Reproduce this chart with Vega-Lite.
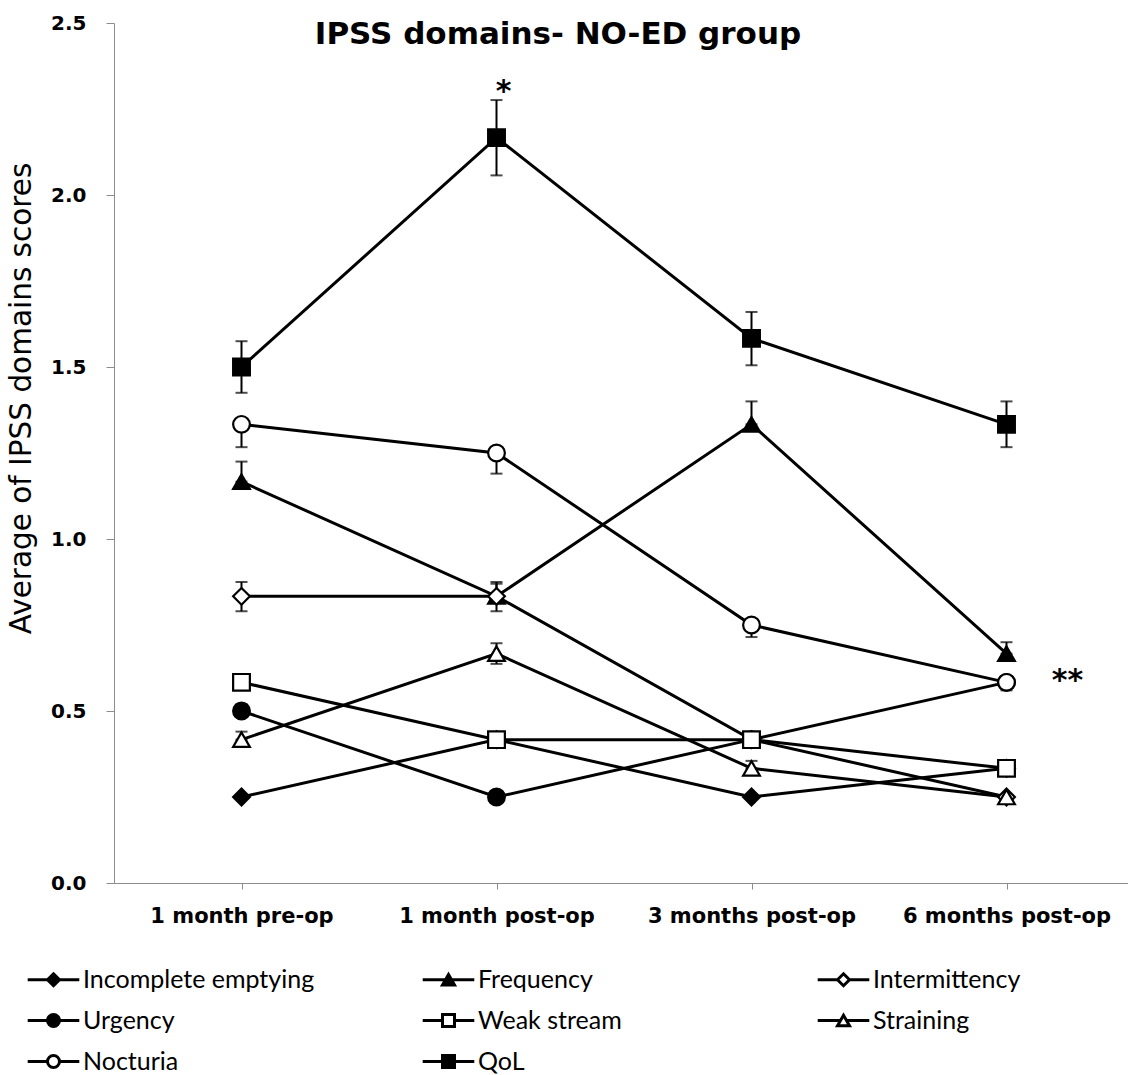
{
  "$schema": "https://vega.github.io/schema/vega-lite/v6.json",
  "autosize": {"type": "none"},
  "padding": {"left": 114, "top": 23, "right": -6, "bottom": 192},
  "width": 1020,
  "height": 860,
  "background": "white",
  "title": {"text": "IPSS domains- NO-ED group", "font": "DejaVu Sans", "fontSize": 31, "fontWeight": "bold", "color": "black", "anchor": "middle", "dx": -66, "offset": -38},
  "config": {
    "view": {"stroke": null},
    "font": "DejaVu Sans",
    "axis": {"grid": false, "domainColor": "#8c8c8c", "tickColor": "#8c8c8c", "labelColor": "black", "titleColor": "black", "labelFont": "DejaVu Sans", "titleFont": "DejaVu Sans"}
  },
  "datasets": {
    "scores": [
      {"series": "Incomplete emptying", "time": "1 month pre-op", "value": 0.25, "lo": null, "hi": null},
      {"series": "Incomplete emptying", "time": "1 month post-op", "value": 0.4167, "lo": null, "hi": null},
      {"series": "Incomplete emptying", "time": "3 months post-op", "value": 0.25, "lo": null, "hi": null},
      {"series": "Incomplete emptying", "time": "6 months post-op", "value": 0.3333, "lo": null, "hi": null},
      {"series": "Frequency", "time": "1 month pre-op", "value": 1.1667, "lo": 1.1667, "hi": 1.225},
      {"series": "Frequency", "time": "1 month post-op", "value": 0.8333, "lo": 0.8333, "hi": 0.87},
      {"series": "Frequency", "time": "3 months post-op", "value": 1.3333, "lo": 1.3333, "hi": 1.4},
      {"series": "Frequency", "time": "6 months post-op", "value": 0.6667, "lo": 0.6667, "hi": 0.7},
      {"series": "Intermittency", "time": "1 month pre-op", "value": 0.8333, "lo": 0.79, "hi": 0.875},
      {"series": "Intermittency", "time": "1 month post-op", "value": 0.8333, "lo": 0.79, "hi": 0.875},
      {"series": "Intermittency", "time": "3 months post-op", "value": 0.4167, "lo": 0.4, "hi": 0.435},
      {"series": "Intermittency", "time": "6 months post-op", "value": 0.25, "lo": null, "hi": null},
      {"series": "Urgency", "time": "1 month pre-op", "value": 0.5, "lo": 0.5, "hi": 0.52},
      {"series": "Urgency", "time": "1 month post-op", "value": 0.25, "lo": null, "hi": null},
      {"series": "Urgency", "time": "3 months post-op", "value": 0.4167, "lo": null, "hi": null},
      {"series": "Urgency", "time": "6 months post-op", "value": 0.5833, "lo": null, "hi": null},
      {"series": "Weak stream", "time": "1 month pre-op", "value": 0.5833, "lo": 0.5833, "hi": 0.597},
      {"series": "Weak stream", "time": "1 month post-op", "value": 0.4167, "lo": null, "hi": null},
      {"series": "Weak stream", "time": "3 months post-op", "value": 0.4167, "lo": null, "hi": null},
      {"series": "Weak stream", "time": "6 months post-op", "value": 0.3333, "lo": null, "hi": null},
      {"series": "Straining", "time": "1 month pre-op", "value": 0.4167, "lo": 0.4167, "hi": 0.44},
      {"series": "Straining", "time": "1 month post-op", "value": 0.6667, "lo": 0.637, "hi": 0.697},
      {"series": "Straining", "time": "3 months post-op", "value": 0.3333, "lo": 0.3333, "hi": 0.355},
      {"series": "Straining", "time": "6 months post-op", "value": 0.25, "lo": 0.235, "hi": 0.25},
      {"series": "Nocturia", "time": "1 month pre-op", "value": 1.3333, "lo": 1.267, "hi": 1.3333},
      {"series": "Nocturia", "time": "1 month post-op", "value": 1.25, "lo": 1.19, "hi": 1.25},
      {"series": "Nocturia", "time": "3 months post-op", "value": 0.75, "lo": 0.715, "hi": 0.75},
      {"series": "Nocturia", "time": "6 months post-op", "value": 0.5833, "lo": 0.56, "hi": 0.6},
      {"series": "QoL", "time": "1 month pre-op", "value": 1.5, "lo": 1.425, "hi": 1.575},
      {"series": "QoL", "time": "1 month post-op", "value": 2.1667, "lo": 2.057, "hi": 2.276},
      {"series": "QoL", "time": "3 months post-op", "value": 1.5833, "lo": 1.505, "hi": 1.66},
      {"series": "QoL", "time": "6 months post-op", "value": 1.3333, "lo": 1.267, "hi": 1.4}
    ],
    "notes": [
      {"time": "1 month post-op", "value": 2.31, "label": "*", "pos": "above"},
      {"time": "6 months post-op", "value": 0.6, "label": "**", "pos": "right"}
    ]
  },
  "data": {"name": "scores"},
  "encoding": {
    "x": {
      "field": "time", "type": "ordinal",
      "sort": ["1 month pre-op", "1 month post-op", "3 months post-op", "6 months post-op"],
      "scale": {"type": "point", "padding": 0.5},
      "axis": {"title": null, "labelAngle": 0, "labelFontSize": 21, "labelFontWeight": "bold", "labelPadding": 16, "labelLimit": 400, "tickSize": 6}
    }
  },
  "layer": [
    {
      "mark": {"type": "line", "color": "black", "strokeWidth": 3},
      "encoding": {
        "y": {
          "field": "value", "type": "quantitative", "title": "Average of IPSS domains scores",
          "scale": {"domain": [0, 2.5], "nice": false},
          "axis": {"title": "Average of IPSS domains scores", "titleFontSize": 29.5, "titleFontWeight": "normal", "titlePadding": 14, "titleY": 375, "values": [0, 0.5, 1, 1.5, 2, 2.5], "format": ".1f", "labelFontSize": 20, "labelFontWeight": "bold", "labelPadding": 20, "tickSize": 8}
        },
        "detail": {"field": "series"},
        "order": {"value": null}
      }
    },
    {
      "transform": [{"filter": "isValid(datum.lo)"}],
      "mark": {"type": "errorbar", "ticks": {"size": 12, "thickness": 2, "color": "black"}, "rule": {"strokeWidth": 2, "color": "black"}},
      "encoding": {
        "y": {"field": "lo", "type": "quantitative", "title": "Average of IPSS domains scores"},
        "y2": {"field": "hi"}
      }
    },
    {
      "mark": {"type": "point", "filled": true, "stroke": "black", "strokeWidth": 2.2, "size": 280, "opacity": 1},
      "encoding": {
        "y": {"field": "value", "type": "quantitative", "title": "Average of IPSS domains scores"},
        "shape": {
          "field": "series", "type": "nominal",
          "scale": {
            "domain": ["Incomplete emptying", "Frequency", "Intermittency", "Urgency", "Weak stream", "Straining", "Nocturia", "QoL"],
            "range": ["diamond", "triangle-up", "diamond", "circle", "square", "triangle-up", "circle", "square"]
          },
          "legend": null
        },
        "fill": {
          "field": "series", "type": "nominal",
          "scale": {
            "domain": ["Incomplete emptying", "Frequency", "Intermittency", "Urgency", "Weak stream", "Straining", "Nocturia", "QoL"],
            "range": ["black", "black", "white", "black", "white", "white", "white", "black"]
          },
          "legend": null
        }
      }
    },
    {
      "transform": [{"filter": "datum.value < 0"}],
      "mark": {"type": "point", "filled": true, "strokeWidth": 3, "opacity": 1},
      "encoding": {
        "y": {"field": "value", "type": "quantitative", "title": "Average of IPSS domains scores"},
        "shape": {
          "field": "series", "type": "nominal",
          "scale": {
            "domain": ["Incomplete emptying", "Urgency", "Nocturia", "Frequency", "Weak stream", "QoL", "Intermittency", "Straining"],
            "range": [
              "M-4.3,0H-1M1,0H4.3M0,-1L1,0L0,1L-1,0Z",
              "M-4.3,0H-1M1,0H4.3M1,0A1,1 0 1,1 -1,0A1,1 0 1,1 1,0Z",
              "M-4.3,0H-1M1,0H4.3M1,0A1,1 0 1,1 -1,0A1,1 0 1,1 1,0Z",
              "M-4.3,0H-0.5M0.5,0H4.3M0,-0.866L1,0.866L-1,0.866Z",
              "M-4.3,0H-1M1,0H4.3M-1,-1H1V1H-1Z",
              "M-4.3,0H-1M1,0H4.3M-1,-1H1V1H-1Z",
              "M-4.3,0H-1M1,0H4.3M0,-1L1,0L0,1L-1,0Z",
              "M-4.3,0H-0.5M0.5,0H4.3M0,-0.866L1,0.866L-1,0.866Z"
            ]
          },
          "legend": {
            "title": null, "orient": "none", "legendX": -73, "legendY": 944,
            "columns": 3, "gridAlign": "all", "columnPadding": 101, "rowPadding": 15,
            "symbolSize": 144, "symbolStrokeColor": "black", "symbolStrokeWidth": 3,
            "labelFont": "Lato", "labelFontSize": 25, "labelColor": "black", "labelOffset": 17, "labelLimit": 400,
            "encode": {"symbols": {"stroke": {"value": "black"}, "strokeWidth": {"value": 3}}}
          }
        },
        "fill": {
          "field": "series", "type": "nominal",
          "scale": {
            "domain": ["Incomplete emptying", "Urgency", "Nocturia", "Frequency", "Weak stream", "QoL", "Intermittency", "Straining"],
            "range": ["black", "black", "white", "black", "white", "black", "white", "white"]
          },
          "legend": {
            "title": null, "orient": "none", "legendX": -73, "legendY": 944,
            "columns": 3, "gridAlign": "all", "columnPadding": 101, "rowPadding": 15,
            "symbolSize": 144, "symbolStrokeColor": "black", "symbolStrokeWidth": 3,
            "labelFont": "Lato", "labelFontSize": 25, "labelColor": "black", "labelOffset": 17, "labelLimit": 400,
            "encode": {"symbols": {"stroke": {"value": "black"}, "strokeWidth": {"value": 3}}}
          }
        },
        "stroke": {
          "field": "series", "type": "nominal",
          "scale": {
            "domain": ["Incomplete emptying", "Urgency", "Nocturia", "Frequency", "Weak stream", "QoL", "Intermittency", "Straining"],
            "range": ["black", "black", "black", "black", "black", "black", "black", "black"]
          },
          "legend": {
            "title": null, "orient": "none", "legendX": -73, "legendY": 944,
            "columns": 3, "gridAlign": "all", "columnPadding": 101, "rowPadding": 15,
            "symbolSize": 144, "symbolStrokeColor": "black", "symbolStrokeWidth": 3,
            "labelFont": "Lato", "labelFontSize": 25, "labelColor": "black", "labelOffset": 17, "labelLimit": 400,
            "encode": {"symbols": {"stroke": {"value": "black"}, "strokeWidth": {"value": 3}}}
          }
        }
      }
    },
    {
      "data": {"name": "notes"},
      "transform": [{"filter": "datum.pos == 'above'"}],
      "mark": {"type": "text", "font": "DejaVu Sans", "fontSize": 30, "fontWeight": "bold", "color": "black", "dx": 7, "dy": 4, "baseline": "middle"},
      "encoding": {
        "y": {"field": "value", "type": "quantitative", "title": "Average of IPSS domains scores"},
        "text": {"field": "label"}
      }
    },
    {
      "data": {"name": "notes"},
      "transform": [{"filter": "datum.pos == 'right'"}],
      "mark": {"type": "text", "font": "DejaVu Sans", "fontSize": 30, "fontWeight": "bold", "color": "black", "dx": 61, "dy": 4, "baseline": "middle"},
      "encoding": {
        "y": {"field": "value", "type": "quantitative", "title": "Average of IPSS domains scores"},
        "text": {"field": "label"}
      }
    }
  ],
  "resolve": {"scale": {"shape": "independent", "fill": "independent", "stroke": "independent"}}
}
